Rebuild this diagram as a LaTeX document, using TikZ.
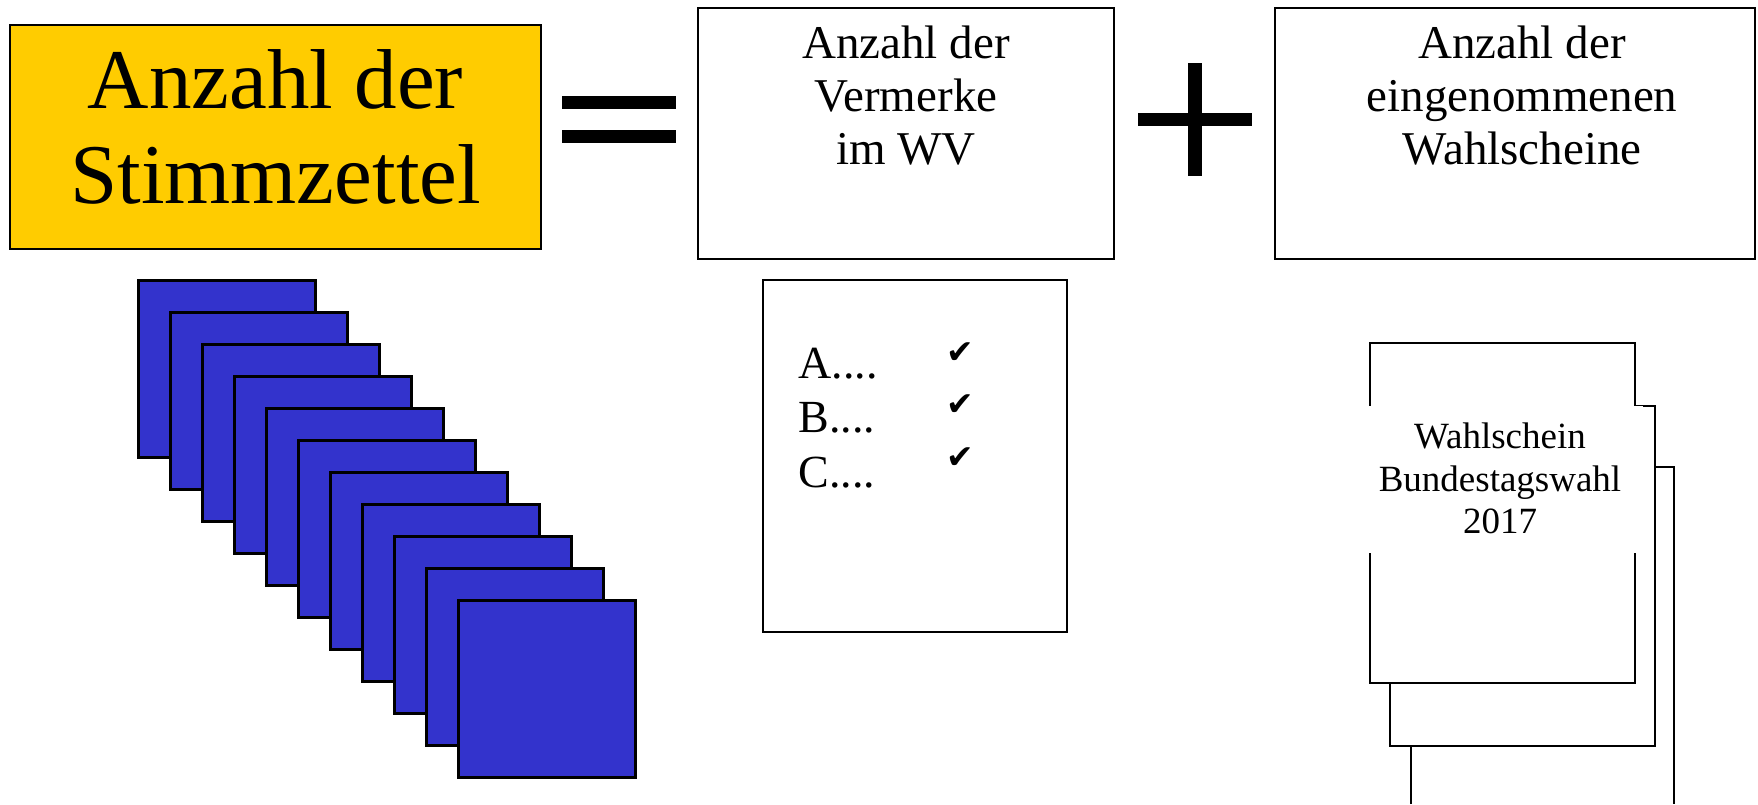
\documentclass[tikz,border=0pt]{standalone}
\usepackage{fontspec}
\setmainfont{Liberation Serif}
\newfontfamily\checkfont{DejaVu Sans}
\usetikzlibrary{positioning}
\definecolor{SumYellow}{HTML}{FFCC00}
\definecolor{BallotBlue}{HTML}{3333CC}

\begin{document}
\begin{tikzpicture}[x=0.5pt,y=-0.5pt,
  sumbox/.style={draw,line width=1pt,inner sep=0pt},
  boxtext/.style={inner sep=0pt,align=center},
  ballot/.style={draw,line width=1.5pt,fill=BallotBlue,minimum width=88.5pt,minimum height=88.5pt,inner sep=0pt},
  sheet/.style={draw,line width=1pt,fill=white,minimum width=132.5pt,minimum height=170pt,inner sep=0pt},
  tick/.style={inner sep=0pt,font=\checkfont\fontsize{16.5}{16.5}\selectfont}]
  \useasboundingbox (0,0) rectangle (1758,804);
  % top row: total = votes + passes
  \node[sumbox,fill=SumYellow,minimum width=265.5pt,minimum height=112pt] (total) at (275.5,137) {};
  \node[boxtext,font=\fontsize{42.5}{47.5}\selectfont,below=12.6pt of total.north] (total text) {Anzahl der\\Stimmzettel};
  \node[sumbox,fill=white,minimum width=208pt,minimum height=125.5pt] (votes) at (906,133.5) {};
  \node[boxtext,font=\fontsize{23.5}{26.5}\selectfont,below=9.45pt of votes.north] (votes text) {Anzahl der\\Vermerke\\im WV};
  \node[sumbox,fill=white,minimum width=240pt,minimum height=125.5pt] (passes) at (1515,133.5) {};
  \node[boxtext,font=\fontsize{23.5}{26.5}\selectfont,below=9.45pt of passes.north,xshift=3.5pt] (passes text) {Anzahl der\\eingenommenen\\Wahlscheine};
  \fill (562,96) rectangle (676,109);
  \fill (562,130) rectangle (676,143);
  \fill (1138,113) rectangle (1252,126);
  \fill (1188,63) rectangle (1202,176);
  % stack of ballots
  \foreach \i in {0,...,10}
    \node[ballot] (ballot\i) at ({226.5+32*\i},{368.5+32*\i}) {};
  % voter list
  \node[sumbox,fill=white,minimum width=152pt,minimum height=176pt] (list) at (915,456) {};
  \node[inner sep=0pt,align=left,anchor=north west,font=\fontsize{23}{27.3}\selectfont] (list text) at (798,347.5) {A....\\B....\\C....};
  \foreach \y/\n in {353/a,405.5/b,458/c}
    \node[tick] (tick\n) at (960,\y) {✔};
  % polling cards
  \filldraw[fill=white,line width=1pt] (1411,804) -- (1411,467) -- (1674,467) -- (1674,804);
  \node[sheet] (card2) at (1522.5,576) {};
  \node[sheet] (card1) at (1502.5,513) {};
  \fill[white] (1366,406) rectangle (1643,553);
  \node[boxtext,anchor=north,font=\fontsize{18.5}{21.2}\selectfont] (card text) at (1500,422.7) {Wahlschein\\Bundestagswahl\\2017};
\end{tikzpicture}
\end{document}
